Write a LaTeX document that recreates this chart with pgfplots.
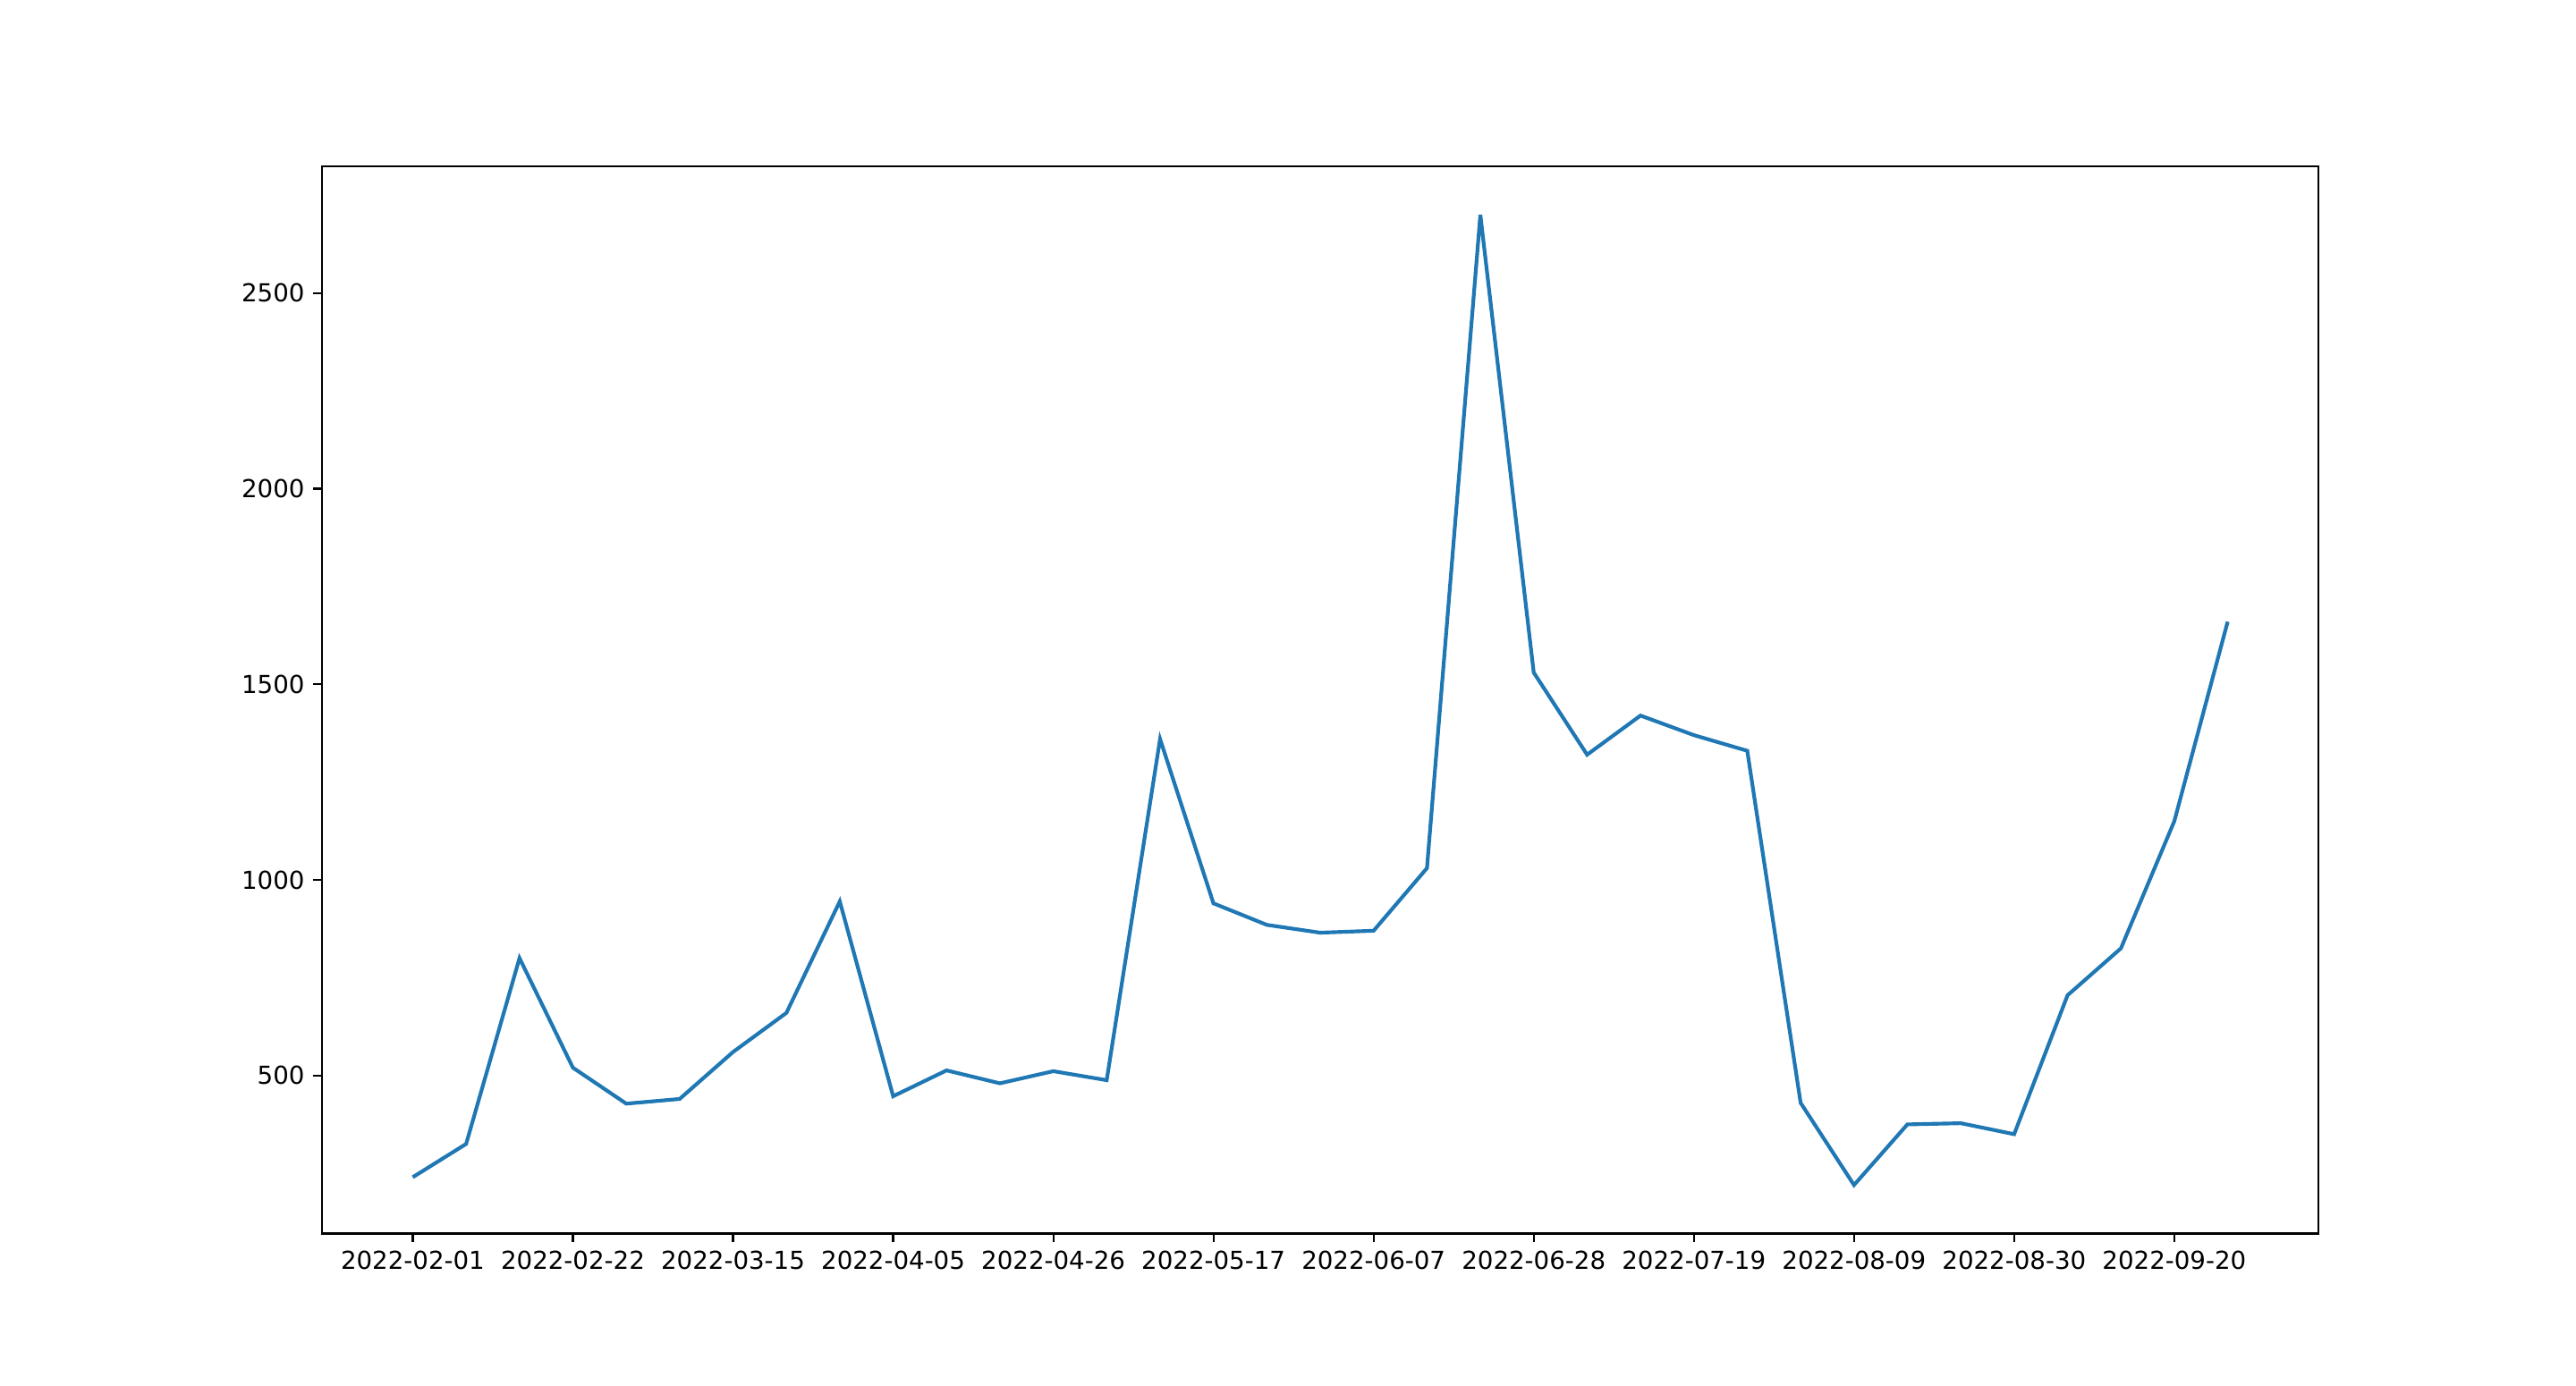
\documentclass[border=0pt]{standalone}
\usepackage{pgfplots}
\pgfplotsset{compat=1.18}
\usepackage{fontspec}
\setmainfont{DejaVu Sans}
\definecolor{tabblue}{HTML}{1F77B4}
\begin{document}
\begin{tikzpicture}
\useasboundingbox (0,0) rectangle (14.4in,7.75in);
\begin{axis}[
  at={(1.8in,0.8525in)}, anchor=south west,
  width=11.16in, height=5.9675in, scale only axis,
  xmin=-1.7, xmax=35.7, ymin=96, ymax=2824,
  xtick={0,3,6,9,12,15,18,21,24,27,30,33},
  xticklabels={2022-02-01,2022-02-22,2022-03-15,2022-04-05,2022-04-26,2022-05-17,2022-06-07,2022-06-28,2022-07-19,2022-08-09,2022-08-30,2022-09-20},
  ytick={500,1000,1500,2000,2500},
  scaled y ticks=false,
  /pgf/number format/assume math mode=true,
  /pgf/number format/1000 sep={},
  tick pos=left,
  tick align=outside,
  major tick length=3.5pt,
  every tick/.style={line width=0.8pt, black},
  axis line style={line width=0.8pt},
  tick label style={font=\fontsize{10}{12}\selectfont},
]
\addplot[tabblue, line width=1.5pt, mark=none] coordinates {
(0,240) (1,325) (2,800) (3,520) (4,428) (5,440) (6,560) (7,660) (8,945)
(9,447) (10,513) (11,480) (12,511) (13,488) (14,1360) (15,940) (16,885)
(17,865) (18,870) (19,1030) (20,2700) (21,1530) (22,1320) (23,1420)
(24,1370) (25,1330) (26,430) (27,220) (28,375) (29,378) (30,350)
(31,705) (32,825) (33,1150) (34,1660)
};
\end{axis}
\end{tikzpicture}
\end{document}
